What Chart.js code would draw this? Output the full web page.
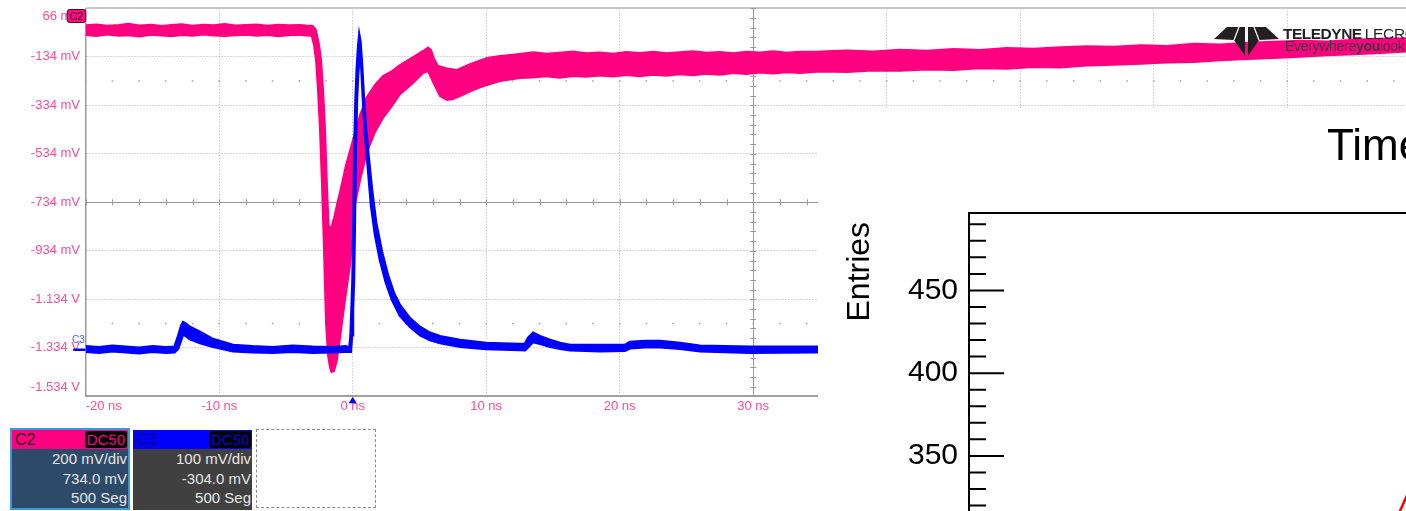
<!DOCTYPE html>
<html>
<head>
<meta charset="utf-8">
<script src="https://cdn.jsdelivr.net/npm/chart.js@4.4.1/dist/chart.umd.min.js"></script>
<style>
html,body{margin:0;padding:0;width:1406px;height:511px;overflow:hidden;background:#fff;font-family:"Liberation Sans",Arial,sans-serif;}
#scope{position:absolute;left:0;top:0;}
#root{position:absolute;left:818px;top:108px;width:588px;height:403px;overflow:hidden;background:#fff;}
#hist{position:absolute;left:0;top:0;}
#rtitle{position:absolute;left:509px;top:15px;font-size:44px;line-height:44px;white-space:nowrap;color:#000;}
.box{position:absolute;box-sizing:border-box;font-family:"Liberation Sans",Arial,sans-serif;}
.hdr{position:relative;height:19px;}
.hdr .nm{position:absolute;left:3px;top:0;font-size:16px;line-height:19px;}
.hdr .dc{position:absolute;right:1px;top:1px;height:17px;background:#000;border-radius:3px;padding:0 2px;font-size:15px;line-height:17px;}
.ln{text-align:right;font-size:15px;line-height:19.5px;color:#e6e6e6;padding-right:1px;white-space:nowrap;}
#logo{position:absolute;left:1210px;top:24px;width:72px;height:36px;}
#tl1{position:absolute;left:1283px;top:25.5px;font-size:15.5px;line-height:15px;white-space:nowrap;color:#231f20;}
#tl2{position:absolute;left:1285px;top:39px;font-size:14px;line-height:14px;white-space:nowrap;color:#3a3a3a;letter-spacing:-0.3px;}
</style>
</head>
<body>
<canvas id="scope" width="1440" height="511"></canvas>

<svg id="logo" viewBox="0 0 72 36">
  <polygon points="4,15 17,3 35,3 35,32 24,16" fill="#231f20"/>
  <polygon points="69,15 56,3 38,3 38,32 49,16" fill="#231f20"/>
  <line x1="24" y1="16" x2="29" y2="3" stroke="#fff" stroke-width="1.2"/>
  <line x1="49" y1="16" x2="44" y2="3" stroke="#fff" stroke-width="1.2"/>
</svg>
<div id="tl1"><b style="letter-spacing:-0.5px">TELEDYNE</b><span style="letter-spacing:-0.3px;margin-left:3px">LECROY</span></div>
<div id="tl2">Everywhere<b>you</b>look</div>

<div class="box" style="left:10px;top:428px;width:120px;height:82px;border:2px solid #3a9ad9;background:#2d4a68;">
  <div class="hdr" style="background:#ff0080;"><span class="nm" style="color:#1a1a1a">C2</span><span class="dc" style="color:#ff0080">DC50</span></div>
  <div class="ln">200 mV/div</div>
  <div class="ln">734.0 mV</div>
  <div class="ln">500 Seg</div>
</div>
<div class="box" style="left:133px;top:430px;width:119px;height:80px;background:#404040;">
  <div class="hdr" style="background:#0000ff;"><span class="nm" style="color:#000070">C3</span><span class="dc" style="color:#0000ff">DC50</span></div>
  <div class="ln">100 mV/div</div>
  <div class="ln">-304.0 mV</div>
  <div class="ln">500 Seg</div>
</div>
<div class="box" style="left:256px;top:429px;width:120px;height:79px;border:1px dashed #8c8c8c;"></div>

<div id="root">
  <canvas id="hist" width="800" height="947"></canvas>
  <div id="rtitle">Time</div>
</div>

<script>
// ---------------- Scope data (time in ns, voltage in mV) ----------------
const xTickLabels = ['-20 ns','-10 ns','0 ns','10 ns','20 ns','30 ns','40 ns','50 ns','60 ns','70 ns','80 ns'];
const yTickValues = [66, -134, -334, -534, -734, -934, -1134, -1334, -1534];
const yTickLabels = ['66 mV','-134 mV','-334 mV','-534 mV','-734 mV','-934 mV','-1.134 V','-1.334 V','-1.534 V'];

// C2 persistence band: upper (max) and lower (min) envelope
const c2HiT = [-20,-19.2,-18.4,-17.5,-16.8,-16,-15.1,-14.3,-13.6,-12.8,-12,-11.2,-10.4,-9.6,-8.8,-8,-7.2,-6.4,-5.6,-4.8,-4,-3.5,
  -3.1,-2.97,-2.75,-2.52,-2.37,-2.22,-2.07,-1.93,-1.81,-1.63,-1.40,-1.18,-0.95,-0.50,0.02,0.55,1.07,1.67,2.27,2.94,3.54,4.52,5.27,5.64,5.87,6.09,6.39,7.07,7.81,8.79,10.06,11.03,12.53,
  13.5,14.5,15.5,16.5,17.5,18.5,19.5,20.5,21.5,22.5,23.5,24.5,25.5,26.5,27.5,28.5,29.5,30.5,31.5,32.5,33.5,
  35,37,39,41,43,45,47,49,51,53,55,57,59,61,63,65,67,69,71,73,75,77,79];
const c2HiV = [-4,-1,-6,-3,2,-5,-2,-7,-3,0,-6,-2,-4,1,-5,-3,-1,-6,-2,-4,-3,-5,
  -6,-8,-24,-85,-147,-271,-436,-663,-828,-844,-799,-745,-692,-580,-477,-374,-300,-250,-213,-193,-168,-135,-110,-96,-106,-143,-172,-182,-188,-164,-139,-131,-122,
  -115,-121,-117,-112,-119,-116,-121,-114,-118,-113,-119,-115,-111,-117,-114,-119,-113,-116,-111,-117,-113,
  -112,-108,-112,-105,-109,-102,-106,-98,-101,-95,-90,-93,-86,-89,-80,-83,-76,-72,-68,-71,-64,-60,-58];
const c2LoT = [-20,-19.2,-18.4,-17.5,-16.8,-16,-15.1,-14.3,-13.6,-12.8,-12,-11.2,-10.4,-9.6,-8.8,-8,-7.2,-6.4,-5.6,-4.8,-4,-3.5,
  -3.1,-3.05,-2.90,-2.75,-2.60,-2.45,-2.30,-2.15,-2.00,-1.85,-1.70,-1.59,-1.40,-1.18,-0.95,-0.58,-0.20,0.17,0.55,1.07,1.67,2.27,2.94,3.54,4.52,5.27,5.64,6.02,6.54,7.07,7.51,8.04,9.01,10.06,11.03,12.53,
  13.5,14.5,15.5,16.5,17.5,18.5,19.5,20.5,21.5,22.5,23.5,24.5,25.5,26.5,27.5,28.5,29.5,30.5,31.5,32.5,33.5,
  35,37,39,41,43,45,47,49,51,53,55,57,59,61,63,65,67,69,71,73,75,77,79];
const c2LoV = [-44,-48,-42,-47,-45,-50,-43,-46,-49,-44,-47,-42,-46,-48,-45,-43,-47,-44,-49,-45,-43,-46,
  -47,-52,-85,-147,-271,-436,-663,-931,-1230,-1365,-1415,-1434,-1430,-1384,-1293,-1137,-993,-745,-642,-527,-444,-386,-337,-288,-242,-201,-193,-238,-296,-312,-308,-296,-271,-250,-234,-221,
  -219,-214,-220,-213,-216,-211,-215,-209,-214,-208,-212,-206,-210,-204,-208,-201,-205,-199,-203,-198,-201,
  -195,-197,-190,-192,-186,-188,-181,-183,-176,-178,-170,-167,-163,-158,-155,-148,-143,-139,-134,-128,-124,-118,-112];

// C3 persistence band (own scale: 100 mV/div, offset -304 mV)
const c3HiT = [-20,-19,-18,-17,-16,-15,-14,-13.35,-13.08,-12.85,-12.71,-12.56,-12.19,-11.44,-10.47,-8.97,-7.5,-6,-4.5,-3,-1.5,-0.5,
  -0.25,-0.16,-0.09,-0.015,0.045,0.12,0.21,0.30,0.40,0.49,0.58,0.70,0.85,1.00,1.22,1.45,1.75,2.19,2.64,3.09,3.54,4.29,5.04,5.79,6.54,8.04,9.99,
  12.53,12.91,13.13,13.51,14.03,14.78,15.53,16.28,18.52,20.40,20.77,21.89,23.02,24.52,26.01,29.76,34.78,45,60,80];
const c3HiV = [7,5,8,6,4,7,5,6,28,49,57,55,47,37,22,10,7,5,8,6,5,7,
  4,30,82,144,247,412,515,577,622,649,635,587,515,453,391,329,263,202,154,117,92,65,47,35,28,20,14,
  12,12,24,35,28,20,14,10,10,10,16,18,18,14,8,6,6,6,6,6];
const c3LoT = [-20,-19,-18,-17,-16,-15,-14,-13.35,-13.08,-12.85,-12.71,-12.49,-12.19,-11.44,-10.47,-8.97,-7.5,-6,-4.5,-3,-1.5,-0.5,
  -0.14,-0.05,0.02,0.095,0.155,0.23,0.32,0.41,0.50,0.62,0.77,0.92,1.15,1.37,1.67,2.04,2.49,2.94,3.54,4.29,5.04,5.79,6.54,8.04,9.99,
  12.53,12.91,13.13,13.51,14.03,14.78,15.53,16.28,18.52,20.40,20.77,21.89,23.02,24.52,26.01,29.76,34.78,45,60,80];
const c3LoV = [-4,-6,-3,-5,-7,-4,-6,-5,2,20,32,28,22,14,6,-3,-5,-6,-4,-6,-5,-4,
  -4,30,82,144,247,412,515,570,600,597,515,443,371,298,237,185,138,103,70,47,30,20,14,6,1.5,
  -0.5,-1,5,16,12,6,2,-1,-3,-2,3,5,5,2,-3,-6,-5,-5,-5,-5];

// ---------------- Histogram panel data ----------------
const fitX = [67.5, 68.5, 69.5, 70.5];
const fitY = [308, 316.6, 325, 334];

const C2 = '#ff0080', C3 = '#0000ff', LBL = '#ff4b93';
const pts = (t, v) => t.map((x, i) => ({x, y: v[i]}));
const FONT = 'Liberation Sans';

const graticule = {
  id: 'graticule',
  beforeDatasetsDraw(chart) {
    const {ctx, scales: {x, y}} = chart;
    const cx = x.getPixelForValue(30), cy = y.getPixelForValue(-734);
    ctx.save();
    ctx.strokeStyle = '#9a9a9a'; ctx.lineWidth = 1;
    ctx.beginPath();
    for (let t = x.min; t <= x.max + 1e-9; t += 2) {
      const px = Math.round(x.getPixelForValue(t)) + 0.5;
      ctx.moveTo(px, cy - 3); ctx.lineTo(px, cy + 3);
    }
    for (let v = y.min; v <= y.max + 1e-9; v += 40) {
      const py = Math.round(y.getPixelForValue(v)) + 0.5;
      ctx.moveTo(cx - 3, py); ctx.lineTo(cx + 3, py);
    }
    ctx.stroke();
    ctx.fillStyle = '#a0a0a0';
    [-234, -1234].forEach(rv => {
      const py = y.getPixelForValue(rv);
      for (let t = x.min; t <= x.max + 1e-9; t += 2) {
        const px = x.getPixelForValue(t);
        ctx.fillRect(px - 0.75, py - 0.75, 1.5, 1.5);
      }
    });
    ctx.restore();
  }
};

const markers = {
  id: 'markers',
  afterDraw(chart) {
    const {ctx, chartArea: a, scales: {x, y3}} = chart;
    ctx.save();
    const bx = a.left - 18.5, by = a.top + 1.2, bw = 18.5, bh = 13, r = 2.5;
    ctx.beginPath();
    ctx.moveTo(bx + r, by); ctx.lineTo(bx + bw - r, by); ctx.quadraticCurveTo(bx + bw, by, bx + bw, by + r);
    ctx.lineTo(bx + bw, by + bh - r); ctx.quadraticCurveTo(bx + bw, by + bh, bx + bw - r, by + bh);
    ctx.lineTo(bx + r, by + bh); ctx.quadraticCurveTo(bx, by + bh, bx, by + bh - r);
    ctx.lineTo(bx, by + r); ctx.quadraticCurveTo(bx, by, bx + r, by);
    ctx.closePath();
    ctx.fillStyle = '#ff0a84'; ctx.fill();
    ctx.strokeStyle = '#4d0026'; ctx.lineWidth = 1; ctx.stroke();
    ctx.fillStyle = '#33001a'; ctx.font = '11px ' + FONT; ctx.textAlign = 'center'; ctx.textBaseline = 'middle';
    ctx.fillText('C2', bx + bw / 2, by + bh / 2 + 0.5);
    const gy = y3.getPixelForValue(0);
    ctx.strokeStyle = C3; ctx.lineWidth = 2.5;
    ctx.beginPath(); ctx.moveTo(a.left - 12.5, gy); ctx.lineTo(a.left - 0.5, gy); ctx.stroke();
    ctx.fillStyle = '#3a5cff'; ctx.font = '10px ' + FONT; ctx.textAlign = 'left'; ctx.textBaseline = 'alphabetic';
    ctx.fillText('C3', a.left - 13.7, gy - 6.5);
    const tx = x.getPixelForValue(0);
    ctx.fillStyle = C3;
    ctx.beginPath(); ctx.moveTo(tx, a.bottom + 0.5); ctx.lineTo(tx - 4, a.bottom + 7); ctx.lineTo(tx + 4, a.bottom + 7); ctx.closePath(); ctx.fill();
    ctx.restore();
  }
};

new Chart(document.getElementById('scope'), {
  type: 'line',
  data: {
    datasets: [
      {label: 'C3 max', data: pts(c3HiT, c3HiV), yAxisID: 'y3', borderColor: C3, borderWidth: 2.5, pointRadius: 0, tension: 0, fill: false},
      {label: 'C3 min', data: pts(c3LoT, c3LoV), yAxisID: 'y3', borderColor: C3, backgroundColor: C3, borderWidth: 2.5, pointRadius: 0, tension: 0, fill: '-1'},
      {label: 'C2 max', data: pts(c2HiT, c2HiV), yAxisID: 'y', borderColor: C2, borderWidth: 2, pointRadius: 0, tension: 0, fill: false},
      {label: 'C2 min', data: pts(c2LoT, c2LoV), yAxisID: 'y', borderColor: C2, backgroundColor: C2, borderWidth: 2, pointRadius: 0, tension: 0, fill: '-1'}
    ]
  },
  options: {
    responsive: false, animation: false, events: [],
    layout: {padding: {left: 0, top: 8.3, right: 19.3, bottom: 0}},
    plugins: {legend: {display: false}, tooltip: {enabled: false}},
    scales: {
      x: {
        type: 'linear', min: -20, max: 80,
        ticks: {
          stepSize: 10, autoSkip: false, maxRotation: 0, padding: 2, color: LBL,
          font: {family: FONT, size: 13},
          callback: (v, i) => i === 0 ? '\u0020'.repeat(10) + xTickLabels[i] : xTickLabels[i]
        },
        grid: {
          drawTicks: false,
          color: c => (c.tick && c.tick.value === 30) ? '#9a9a9a' : '#b0b0b0',
          lineWidth: 1
        },
        border: {color: '#a0a0a0', width: 2, dash: c => (c.tick && c.tick.value === 30) ? [] : [1, 2]},
        afterFit: s => { s.height = 511 - 396.3; s.paddingLeft = 0; s.paddingRight = 0; }
      },
      y: {
        min: -1534, max: 66,
        afterBuildTicks: s => { s.ticks = yTickValues.map(v => ({value: v})).sort((a, b) => a.value - b.value); },
        ticks: {
          padding: 5.7, color: LBL,
          font: c => ({family: FONT, size: 13, lineHeight: (c.tick && (c.tick.value === 66 || c.tick.value === -1534)) ? '17px' : 1.2}),
          callback: v => {
            const lab = yTickLabels[yTickValues.indexOf(v)];
            if (v === 66) return ['', lab];
            if (v === -1534) return [lab, ''];
            return lab;
          }
        },
        grid: {
          drawTicks: false,
          color: c => !c.tick ? '#b0b0b0' : (c.tick.value === 66 ? '#c8c8c8' : (c.tick.value === -734 ? '#9a9a9a' : '#b0b0b0')),
          lineWidth: c => (c.tick && c.tick.value === 66) ? 2 : 1
        },
        border: {color: '#9a9a9a', width: 1.5, dash: c => (c.tick && (c.tick.value === 66 || c.tick.value === -734)) ? [] : [1, 2]},
        afterFit: s => { s.width = 85.7; s.paddingTop = 0; s.paddingBottom = 0; }
      },
      y3: {min: -96, max: 704, display: false}
    }
  },
  plugins: [graticule, markers]
});

// ---------------- Histogram panel (ROOT style) ----------------
const rootTicks = {
  id: 'rootTicks',
  afterDraw(chart) {
    const {ctx, chartArea: a, scales: {y}} = chart;
    ctx.save();
    ctx.strokeStyle = '#000'; ctx.lineWidth = 2;
    ctx.beginPath();
    for (let v = y.min; v <= y.max + 1e-9; v += 10) {
      const py = y.getPixelForValue(v);
      const len = (Math.round(v) % 50 === 0) ? 35 : 17;
      ctx.moveTo(a.left, py); ctx.lineTo(a.left + len, py);
    }
    ctx.stroke();
    ctx.restore();
  }
};

new Chart(document.getElementById('hist'), {
  type: 'line',
  data: {datasets: [{label: 'fit', data: pts(fitX, fitY), borderColor: '#ff0000', borderWidth: 2.5, pointRadius: 0, tension: 0, fill: false}]},
  options: {
    responsive: false, animation: false, events: [],
    layout: {padding: {left: 0, top: 105, right: 20, bottom: 20}},
    plugins: {legend: {display: false}, tooltip: {enabled: false}},
    scales: {
      x: {type: 'linear', min: 0, max: 100, display: false},
      xTop: {
        type: 'linear', position: 'top', min: 0, max: 100, display: true,
        grid: {display: false, drawTicks: false}, ticks: {display: false},
        border: {color: '#000', width: 2},
        afterFit: s => { s.height = 0; }
      },
      y: {
        min: 0, max: 496.8,
        ticks: {stepSize: 50, includeBounds: false, color: '#000', font: {family: FONT, size: 30}, padding: 11},
        grid: {display: false, drawTicks: false},
        border: {color: '#000', width: 2},
        title: {display: true, text: 'Entries ', align: 'end', color: '#000', font: {family: FONT, size: 32}, padding: {top: 22.8, bottom: 0}},
        afterFit: s => { s.width = 151; s.paddingTop = 0; s.paddingBottom = 0; }
      }
    }
  },
  plugins: [rootTicks]
});
</script>
</body>
</html>
